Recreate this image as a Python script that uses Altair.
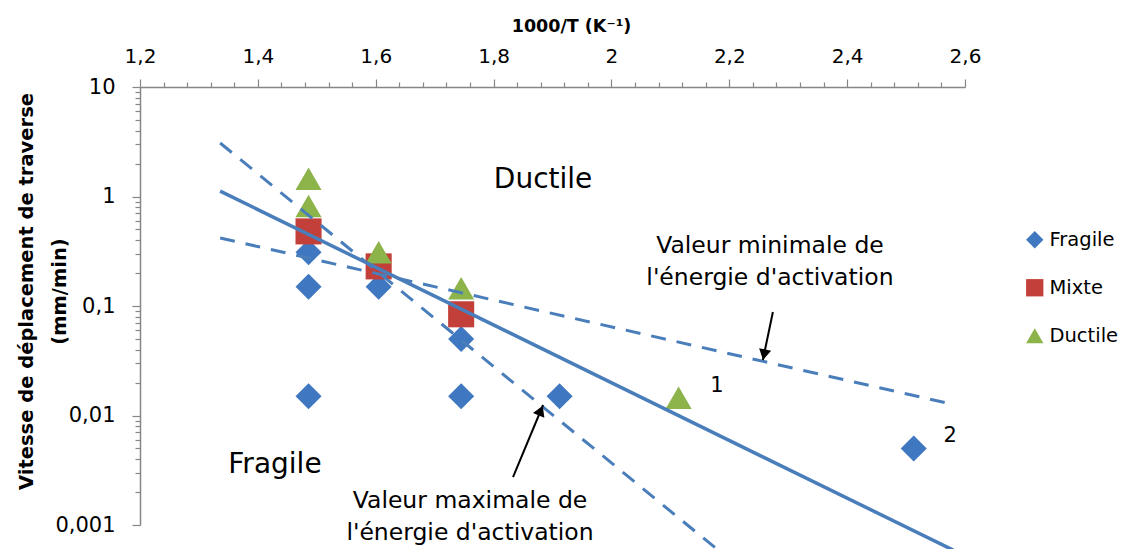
import altair as alt
import pandas as pd

FONT = "DejaVu Sans"

# ---------------- data ----------------
categories = ["Fragile", "Mixte", "Ductile"]
cat_colors = ["#3f78c0", "#c3403a", "#8cb44a"]
cat_shapes = ["diamond", "square", "triangle-up"]

frag_x = [1.486, 1.486, 1.486, 1.605, 1.745, 1.745, 1.912, 2.513]
frag_y = [0.31, 0.15, 0.015, 0.15, 0.05, 0.015, 0.015, 0.005]
mix_x = [1.486, 1.605, 1.745]
mix_y = [0.48, 0.23, 0.084]
duc_x = [1.486, 1.486, 1.605, 1.745, 2.114]
duc_y = [1.45, 0.82, 0.31, 0.145, 0.0145]

# trend lines (end points)
solid_x = [1.336, 2.580]
solid_y = [1.12, 0.00059]
dash_names = ["min", "min", "max", "max"]
dash_x = [1.336, 2.569, 1.336, 2.181]
dash_y = [0.418, 0.0130, 3.08, 0.00059]

# annotations
big_text = ["Ductile", "Fragile"]
big_x = [1.884, 1.429]
big_y = [1.42, 0.00353]
note_text = ["Valeur minimale de\nl'énergie d'activation",
             "Valeur maximale de\nl'énergie d'activation"]
note_x = [2.269, 1.760]
note_y = [0.355, 0.00166]
num_text = ["1", "2"]
num_x = [2.179, 2.575]
num_y = [0.0186, 0.0065]
arrow_x = [2.274, 1.833]
arrow_y = [0.0881, 0.00274]
arrow_x2 = [2.257, 1.884]
arrow_y2 = [0.0321, 0.01247]
head_x = [2.259, 1.880]
head_y = [0.0359, 0.0111]
head_angle = [191.8, 22.6]

x_ticks = [1.2, 1.24, 1.28, 1.32, 1.36, 1.4, 1.44, 1.48, 1.52, 1.56, 1.6,
           1.64, 1.68, 1.72, 1.76, 1.8, 1.84, 1.88, 1.92, 1.96, 2.0,
           2.04, 2.08, 2.12, 2.16, 2.2, 2.24, 2.28, 2.32, 2.36, 2.4,
           2.44, 2.48, 2.52, 2.56, 2.6]
y_ticks = [0.001, 0.002, 0.003, 0.004, 0.005, 0.006, 0.007, 0.008, 0.009,
           0.01, 0.02, 0.03, 0.04, 0.05, 0.06, 0.07, 0.08, 0.09,
           0.1, 0.2, 0.3, 0.4, 0.5, 0.6, 0.7, 0.8, 0.9,
           1, 2, 3, 4, 5, 6, 7, 8, 9, 10]

# ---------------- tables ----------------
pts = pd.DataFrame({
    "x": frag_x + mix_x + duc_x,
    "y": frag_y + mix_y + duc_y,
    "cat": ["Fragile"] * len(frag_x) + ["Mixte"] * len(mix_x) + ["Ductile"] * len(duc_x),
})
solid_df = pd.DataFrame({"x": solid_x, "y": solid_y})
dash_df = pd.DataFrame({"x": dash_x, "y": dash_y, "name": dash_names})
big_df = pd.DataFrame({"x": big_x, "y": big_y, "t": big_text})
note_df = pd.DataFrame({"x": note_x, "y": note_y, "t": note_text})
num_df = pd.DataFrame({"x": num_x, "y": num_y, "t": num_text})
arrow_df = pd.DataFrame({"x": arrow_x, "y": arrow_y, "x2": arrow_x2, "y2": arrow_y2})
head_df = pd.DataFrame({"x": head_x, "y": head_y, "a": head_angle})

x_major = "abs(datum.value*5 - round(datum.value*5)) < 1e-6"
y_major = "abs(log(datum.value)/LN10 - round(log(datum.value)/LN10)) < 1e-6"

xaxis = alt.Axis(
    orient="top", values=x_ticks, title="1000/T (K⁻¹)",
    titleFont=FONT, titleFontSize=17.5, titleFontWeight="bold", titleColor="#000",
    titleX=431, titleY=-56, titleBaseline="alphabetic", titleAlign="center",
    labelExpr=f"{x_major} ? replace(format(datum.value, '.1~f'), '.', ',') : ''",
    labelFont=FONT, labelFontSize=20, labelColor="#000", labelPadding=17,
    labelBaseline="alphabetic", labelOverlap=False, labelFlush=False,
    tickSize={"condition": {"test": x_major, "value": 8}, "value": 5},
    tickColor="#868686", tickWidth=1.2, domainColor="#868686", domainWidth=1.5,
    grid=False,
)
yaxis = alt.Axis(
    orient="left", values=y_ticks,
    title=["Vitesse de déplacement de traverse", "(mm/min)"],
    titleFont=FONT, titleFontSize=19.5, titleFontWeight="bold", titleColor="#000",
    titleLineHeight=33, titleX=-114, titleY=204, titleAngle=270,
    titleBaseline="middle", titleAlign="center",
    labelExpr=f"{y_major} ? replace(format(datum.value, '~g'), '.', ',') : ''",
    labelFont=FONT, labelFontSize=21, labelColor="#000", labelPadding=17,
    labelOverlap=False, labelFlush=False,
    tickSize={"condition": {"test": y_major, "value": 8}, "value": 5},
    tickColor="#868686", tickWidth=1.2, domainColor="#868686", domainWidth=1.5,
    grid=False,
)
xscale = alt.Scale(domain=[1.2, 2.6], nice=False, zero=False)
yscale = alt.Scale(type="log", domain=[0.001, 10], nice=False)

X = alt.X("x:Q", scale=xscale, axis=xaxis)
Y = alt.Y("y:Q", scale=yscale, axis=yaxis)

points = alt.Chart(pts).mark_point(filled=True, size=680, opacity=1, strokeWidth=0).encode(
    x=X, y=Y,
    shape=alt.Shape("cat:N", scale=alt.Scale(domain=categories, range=cat_shapes),
                    legend=alt.Legend(title=None, symbolSize=300)),
    color=alt.Color("cat:N", scale=alt.Scale(domain=categories, range=cat_colors),
                    legend=alt.Legend(title=None, symbolSize=300)),
)

solid = alt.Chart(solid_df).mark_line(color="#4a7ebb", strokeWidth=3.5).encode(x=X, y=Y)
dashed = alt.Chart(dash_df).mark_line(color="#4a7ebb", strokeWidth=3, strokeDash=[15, 11],
                                      strokeCap="butt").encode(x=X, y=Y, detail="name:N")

big = alt.Chart(big_df).mark_text(font=FONT, fontSize=28, color="#000").encode(x=X, y=Y, text="t:N")
notes = alt.Chart(note_df).mark_text(font=FONT, fontSize=23.5, color="#000", lineBreak="\n",
                                     lineHeight=32, baseline="middle").encode(x=X, y=Y, text="t:N")
nums = alt.Chart(num_df).mark_text(font=FONT, fontSize=21, color="#000").encode(x=X, y=Y, text="t:N")
arrows = alt.Chart(arrow_df).mark_rule(color="#000", strokeWidth=2).encode(
    x=X, y=Y, x2="x2:Q", y2="y2:Q")
heads = alt.Chart(head_df).mark_point(shape="triangle-up", filled=True, color="#000", size=150,
                                      opacity=1, strokeWidth=0).encode(
    x=X, y=Y, angle=alt.Angle("a:Q", scale=None))

chart = alt.layer(points, solid, dashed, big, notes, nums, arrows, heads).properties(
    width=825, height=438,
    autosize=alt.AutoSizeParams(type="none"),
    padding={"left": 132, "top": 79, "right": 157, "bottom": 24},
    background="white",
).configure_view(stroke=None).configure_legend(
    orient="none", legendX=885, legendY=143, padding=0, rowPadding=27,
    labelFont=FONT, labelFontSize=19.5, labelColor="#000", labelOffset=5,
)

chart.save("out.html", embed_options={"renderer": "svg", "actions": False})
